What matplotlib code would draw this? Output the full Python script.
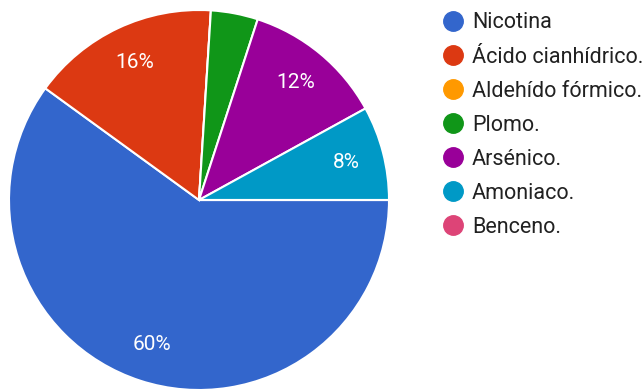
import matplotlib
matplotlib.use("Agg")
import matplotlib.pyplot as plt
from matplotlib.lines import Line2D

plt.rcParams['font.family'] = ['Roboto', 'DejaVu Sans']

# survey answers and their share of responses (%)
labels = ["Nicotina", "Ácido cianhídrico.", "Aldehído fórmico.", "Plomo.",
          "Arsénico.", "Amoniaco.", "Benceno."]
shares = [60, 16, 0, 4, 12, 8, 0]
colors = ["#3366cc", "#dc3912", "#ff9900", "#109618", "#990099", "#0099c6", "#dd4477"]

W, H = 643, 389
fig = plt.figure(figsize=(W / 100, H / 100), dpi=100)

# pie area: centre ~ (199, 200) px, radius ~ 190 px
r = 190
cx, cy = 199, 200
ax = fig.add_axes([(cx - r) / W, (H - cy - r) / H, 2 * r / W, 2 * r / H])

def pct_label(p):
    return f"{p:.0f}%" if p >= 5 else ""

wedges, texts, autotexts = ax.pie(
    shares, colors=colors, startangle=0, counterclock=False,
    autopct=pct_label, pctdistance=0.8,
    wedgeprops=dict(edgecolor="white", linewidth=1.5),
    textprops=dict(color="white", fontsize=15),
)
ax.set_xlim(-1, 1)
ax.set_ylim(-1, 1)
ax.set_aspect("equal")
ax.axis("off")

# legend on the right, one row per answer (pixel positions from the top-left)
row0, step = 20.5, 34.1
dot_x, text_x = 453, 472
for i, (lab, c) in enumerate(zip(labels, colors)):
    y = 1 - (row0 + i * step) / H
    fig.add_artist(Line2D([dot_x / W], [y], transform=fig.transFigure,
                          marker="o", linestyle="", markersize=14,
                          markerfacecolor=c, markeredgecolor=c))
    fig.text(text_x / W, y, lab, fontsize=15.5, color="#212121",
             ha="left", va="center_baseline")

fig.savefig("out.png", dpi=100, facecolor="white")
